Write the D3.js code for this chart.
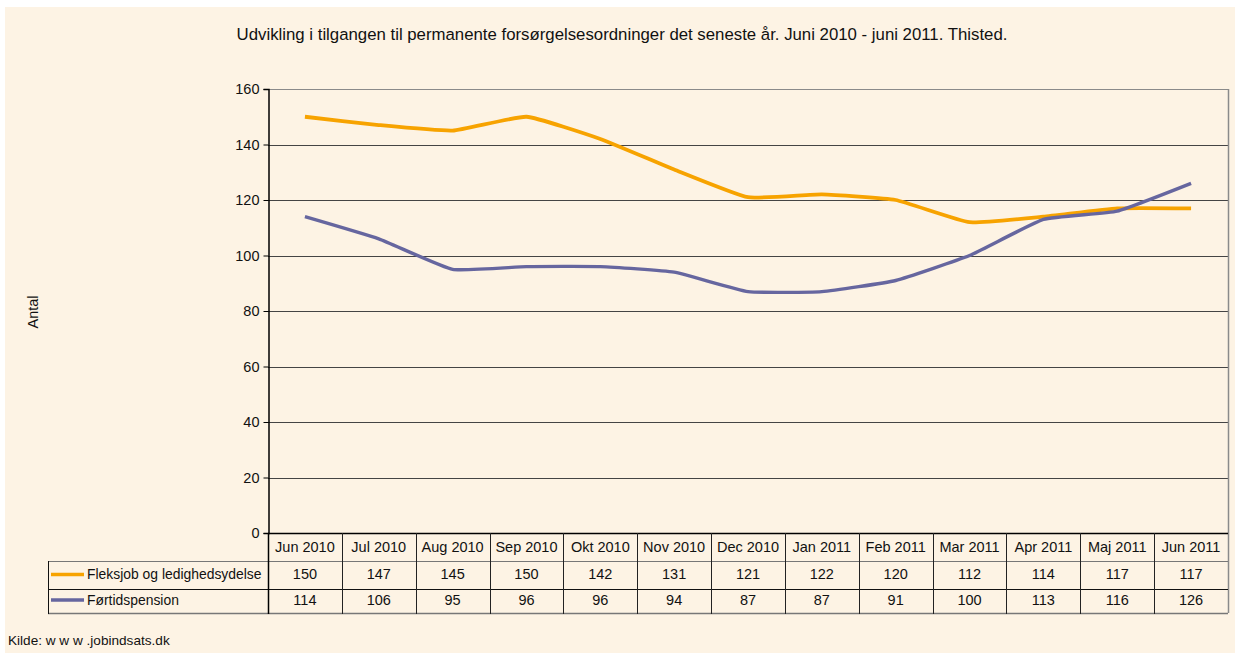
<!DOCTYPE html>
<html><head><meta charset="utf-8">
<script src="https://cdn.jsdelivr.net/npm/d3@7"></script>
<style>body{margin:0;background:#fff}svg{display:block;font-family:"Liberation Sans",Arial,sans-serif}</style>
</head><body><svg id="c" width="1235" height="653"></svg>
<script>
const categories = ["Jun 2010","Jul 2010","Aug 2010","Sep 2010","Okt 2010","Nov 2010","Dec 2010","Jan 2011","Feb 2011","Mar 2011","Apr 2011","Maj 2011","Jun 2011"];
const fleksjob = [150,147,145,150,142,131,121,122,120,112,114,117,117];
const fortid = [114,106,95,96,96,94,87,87,91,100,113,116,126];
const seriesNames = ["Fleksjob og ledighedsydelse","Førtidspension"];
const seriesColors = ["#F7A300","#66669F"];
const yTicks = [0,20,40,60,80,100,120,140,160];
const title = "Udvikling i tilgangen til permanente forsørgelsesordninger det seneste år. Juni 2010 - juni 2011. Thisted.";

const svg = d3.select("#c");
svg.append("rect").attr("x",5).attr("y",7).attr("width",1230).attr("height",646).attr("fill","#FDF3E4");

const L=268, R=1228, T=89, B=533;
const x = d3.scaleBand().domain(categories).range([L,R]);
const y = d3.scaleLinear().domain([0,160]).range([B,T]);
const FS = 14.5;

svg.append("text").attr("x",622).attr("y",40).attr("text-anchor","middle").attr("font-size",16.8).attr("fill","#111").text(title);

svg.append("g").selectAll("line").data(yTicks.filter(d=>d>0)).join("line")
  .attr("x1",L).attr("x2",R).attr("y1",d=>Math.round(y(d))+0.5).attr("y2",d=>Math.round(y(d))+0.5)
  .attr("stroke",d=>d===160?"#8a8a8a":"#444").attr("stroke-width",1);
svg.append("line").attr("x1",R+0.5).attr("x2",R+0.5).attr("y1",T).attr("y2",613).attr("stroke","#8a8a8a").attr("stroke-width",1.5);

const ya = svg.append("g").attr("transform",`translate(${L+0.5},0)`).call(d3.axisLeft(y).tickValues(yTicks).tickSize(5).tickPadding(4));
ya.select(".domain").attr("stroke","#000").attr("stroke-width",1.5);
ya.selectAll(".tick line").attr("stroke","#000");
ya.selectAll("text").attr("font-size",FS).attr("fill","#111").attr("font-family","Liberation Sans, Arial, sans-serif");

svg.append("text").attr("transform","translate(38,312) rotate(-90)").attr("text-anchor","middle").attr("font-size",14.5).attr("fill","#111").text("Antal");

const line = d3.line().x((d,i)=>x(categories[i])+x.bandwidth()/2).y(d=>y(d)).curve(d3.curveCardinal.tension(0.6));
[fleksjob,fortid].forEach((s,k)=>{
  svg.append("path").attr("d",line(s)).attr("fill","none").attr("stroke",seriesColors[k]).attr("stroke-width",k===0?3.8:3.4).attr("stroke-linejoin","round");
});

const LL=48;
const tg = svg.append("g");
tg.append("line").attr("x1",L).attr("x2",R).attr("y1",533.5).attr("y2",533.5).attr("stroke","#000").attr("stroke-width",1.5);
tg.append("line").attr("x1",LL).attr("x2",R).attr("y1",561.5).attr("y2",561.5).attr("stroke","#777").attr("stroke-width",1.2);
tg.append("line").attr("x1",LL).attr("x2",R).attr("y1",589.5).attr("y2",589.5).attr("stroke","#111").attr("stroke-width",1);
tg.append("line").attr("x1",LL).attr("x2",R).attr("y1",613.5).attr("y2",613.5).attr("stroke","#777").attr("stroke-width",1.5);
tg.append("line").attr("x1",LL+0.5).attr("x2",LL+0.5).attr("y1",561).attr("y2",614).attr("stroke","#111");
tg.selectAll("line.v").data(categories).join("line").attr("class","v")
  .attr("x1",d=>Math.round(x(d))+0.5).attr("x2",d=>Math.round(x(d))+0.5).attr("y1",533).attr("y2",614)
  .attr("stroke",(d,i)=>i===0?"#000":"#222").attr("stroke-width",(d,i)=>i===0?1.5:1);
tg.selectAll("text.h").data(categories).join("text").attr("class","h")
  .attr("x",d=>x(d)+x.bandwidth()/2).attr("y",552).attr("text-anchor","middle").attr("font-size",FS).attr("fill","#111").text(d=>d);
[fleksjob,fortid].forEach((s,k)=>{
  const cy = k===0?579:604.5;
  tg.selectAll("text.r"+k).data(s).join("text").attr("class","r"+k)
    .attr("x",(d,i)=>x(categories[i])+x.bandwidth()/2).attr("y",cy).attr("text-anchor","middle").attr("font-size",FS).attr("fill","#111").text(d=>d);
  tg.append("line").attr("x1",51).attr("x2",84).attr("y1",cy-4.5).attr("y2",cy-4.5).attr("stroke",seriesColors[k]).attr("stroke-width",3.5);
  tg.append("text").attr("x",87).attr("y",cy).attr("font-size",13.9).attr("fill","#111").text(seriesNames[k]);
});

svg.append("text").attr("x",8).attr("y",645).attr("font-size",13.6).attr("fill","#111").text("Kilde: w w w .jobindsats.dk");
</script></body></html>
